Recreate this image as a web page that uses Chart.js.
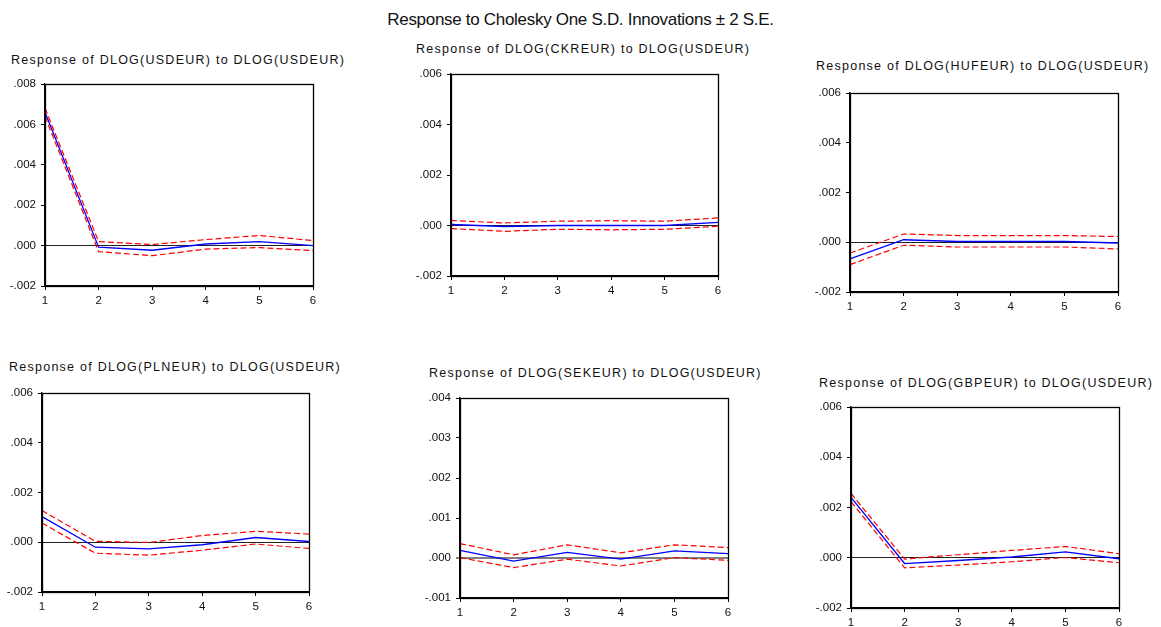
<!DOCTYPE html>
<html>
<head>
<meta charset="utf-8">
<script src="https://cdn.jsdelivr.net/npm/chart.js@4"></script>
<style>
  html, body { margin: 0; padding: 0; background: #fff; }
  #wrap { position: relative; width: 1161px; height: 627px; overflow: hidden; background: #fff; font-family: Arial, "Liberation Sans", sans-serif; }
  .ttl { position: absolute; white-space: nowrap; color: #111; font-size: 12.5px; line-height: 14px; letter-spacing: 1.25px; }
  #main { position: absolute; left: 0; width: 1161px; top: 10px; text-align: center; font-size: 17px; line-height: 20px; color: #111; letter-spacing: -0.3px; }
  canvas { position: absolute; }
</style>
</head>
<body>
<div id="wrap">
  <div id="main">Response to Cholesky One S.D. Innovations ± 2 S.E.</div>
</div>
<script>
// ---- data ----
const periods = ['1', '2', '3', '4', '5', '6'];

const usdResp  = [0.0066, -0.00008, -0.00023, 0.00008, 0.0002, 0.0];
const usdUpper = [0.0068, 0.0002, 0.00005, 0.0003, 0.0005, 0.00025];
const usdLower = [0.0064, -0.0003, -0.0005, -0.00017, -0.0001, -0.00025];

const ckrResp  = [0.00004, -0.00004, 0.0, 0.0, 0.0, 0.00012];
const ckrUpper = [0.0002, 0.0001, 0.00017, 0.00019, 0.00017, 0.0003];
const ckrLower = [-0.00012, -0.00023, -0.00015, -0.00017, -0.00015, -0.00003];

const hufResp  = [-0.00067, 0.0001, 0.00003, 0.00003, 0.00003, -0.00003];
const hufUpper = [-0.00043, 0.00033, 0.00027, 0.00027, 0.00027, 0.00023];
const hufLower = [-0.0009, -0.00012, -0.00019, -0.00019, -0.00019, -0.00027];

const plnResp  = [0.00103, -0.0002, -0.00027, -0.0001, 0.00019, 0.00003];
const plnUpper = [0.00128, 0.00004, -0.00001, 0.00027, 0.00044, 0.00033];
const plnLower = [0.00077, -0.00044, -0.00052, -0.00032, -0.00007, -0.00025];

const sekResp  = [0.00019, -0.00008, 0.00014, -0.00003, 0.00018, 0.00011];
const sekUpper = [0.00036, 0.00008, 0.00033, 0.00013, 0.00033, 0.00026];
const sekLower = [0.00001, -0.00024, -0.00003, -0.0002, 0.00001, -0.00006];

const gbpResp  = [0.0024, -0.00023, -0.00011, 0.00003, 0.00023, -0.00004];
const gbpUpper = [0.00256, -0.00005, 0.00012, 0.00029, 0.00045, 0.00016];
const gbpLower = [0.00223, -0.0004, -0.00029, -0.00016, 0.00001, -0.0002];

const panelTitles = [
  'Response of DLOG(USDEUR) to DLOG(USDEUR)',
  'Response of DLOG(CKREUR) to DLOG(USDEUR)',
  'Response of DLOG(HUFEUR) to DLOG(USDEUR)',
  'Response of DLOG(PLNEUR) to DLOG(USDEUR)',
  'Response of DLOG(SEKEUR) to DLOG(USDEUR)',
  'Response of DLOG(GBPEUR) to DLOG(USDEUR)'
];
const yRanges = [
  [-0.002, 0.008, 0.002],
  [-0.002, 0.006, 0.002],
  [-0.002, 0.006, 0.002],
  [-0.002, 0.006, 0.002],
  [-0.001, 0.004, 0.001],
  [-0.002, 0.006, 0.002]
];
const seriesSets = [
  [usdResp, usdUpper, usdLower],
  [ckrResp, ckrUpper, ckrLower],
  [hufResp, hufUpper, hufLower],
  [plnResp, plnUpper, plnLower],
  [sekResp, sekUpper, sekLower],
  [gbpResp, gbpUpper, gbpLower]
];

// ---- layout ----
const layouts = [
  { l: 45, t: 84, r: 313, b: 286, tx: 11, ty: 60 },
  { l: 451, t: 74, r: 718, b: 276, tx: 416, ty: 49 },
  { l: 850, t: 93, r: 1118, b: 292, tx: 816, ty: 66 },
  { l: 42, t: 393, r: 309, b: 592, tx: 9, ty: 367 },
  { l: 460, t: 398, r: 728, b: 598, tx: 429, ty: 373 },
  { l: 851, t: 407, r: 1119, b: 608, tx: 819, ty: 383 }
];

const YW = 46, XH = 26, PT = 12, PR = 12;
const fontFam = 'Arial, "Liberation Sans", sans-serif';

function fmt(v) {
  if (Math.abs(v) < 1e-9) return '.000';
  return v.toFixed(3).replace(/^(-?)0\./, '$1.');
}

const boxPlugin = {
  id: 'box',
  afterDraw(chart) {
    const a = chart.chartArea, c = chart.ctx;
    c.save();
    c.strokeStyle = '#000';
    c.lineWidth = 1.3;
    c.strokeRect(Math.round(a.left) + 0.5, Math.round(a.top) + 0.5, Math.round(a.right - a.left), Math.round(a.bottom - a.top));
    c.restore();
  }
};

const wrap = document.getElementById('wrap');

layouts.forEach((L, i) => {
  const t = document.createElement('div');
  t.className = 'ttl';
  t.style.left = L.tx + 'px';
  t.style.top = (L.ty - 7) + 'px';
  t.textContent = panelTitles[i];
  wrap.appendChild(t);

  const cv = document.createElement('canvas');
  const w = (L.r - L.l) + YW + PR, h = (L.b - L.t) + PT + XH;
  cv.width = w; cv.height = h;
  cv.style.left = (L.l - YW) + 'px';
  cv.style.top = (L.t - PT) + 'px';
  cv.style.width = w + 'px'; cv.style.height = h + 'px';
  wrap.appendChild(cv);

  const [resp, up, lo] = seriesSets[i];
  const [ymin, ymax, step] = yRanges[i];
  const zeroColor = i === 4 ? '#808080' : '#222';
  const zeroWidth = i === 4 ? 2 : 1;

  new Chart(cv.getContext('2d'), {
    type: 'line',
    data: {
      labels: periods,
      datasets: [
        { data: up, borderColor: '#ff0000', borderWidth: 1.2, borderDash: [6, 3], pointRadius: 0, tension: 0, fill: false },
        { data: lo, borderColor: '#ff0000', borderWidth: 1.2, borderDash: [6, 3], pointRadius: 0, tension: 0, fill: false },
        { data: resp, borderColor: '#0000ff', borderWidth: 1.3, pointRadius: 0, tension: 0, fill: false }
      ]
    },
    options: {
      responsive: false,
      animation: false,
      devicePixelRatio: 1,
      layout: { padding: { top: PT, right: PR, left: 0, bottom: 0 } },
      plugins: { legend: { display: false }, title: { display: false }, tooltip: { enabled: false } },
      scales: {
        x: {
          type: 'category',
          offset: false,
          afterFit(s) { s.height = XH; },
          grid: { drawOnChartArea: false, drawTicks: true, tickLength: 4, tickColor: '#000', tickWidth: 1 },
          border: { display: true, color: '#000', width: 1.3 },
          ticks: { color: '#111', font: { family: fontFam, size: 11.5 }, padding: 4, maxRotation: 0, autoSkip: false }
        },
        y: {
          min: ymin, max: ymax,
          afterFit(s) { s.width = YW; },
          grid: {
            drawOnChartArea: true, drawTicks: true, tickLength: 4,
            color: ctx => (ctx.tick && Math.abs(ctx.tick.value) < 1e-9) ? zeroColor : 'rgba(0,0,0,0)',
            lineWidth: ctx => (ctx.tick && Math.abs(ctx.tick.value) < 1e-9) ? zeroWidth : 1,
            tickColor: '#000', tickWidth: 1
          },
          border: { display: true, color: '#000', width: 1.3 },
          ticks: { stepSize: step, color: '#111', font: { family: fontFam, size: 11.5 }, padding: 5, callback: v => fmt(v) }
        }
      }
    },
    plugins: [boxPlugin]
  });
});
</script>
</body>
</html>
